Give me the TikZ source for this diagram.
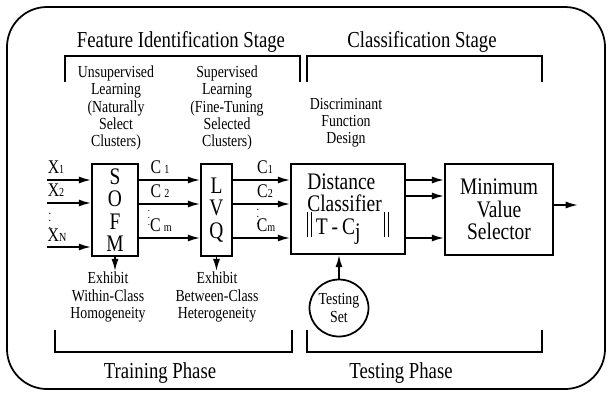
\documentclass[tikz,border=0pt]{standalone}
\usepackage{fontspec}
\setmainfont{Liberation Serif}[FakeStretch=0.82]
\usetikzlibrary{shapes.geometric, arrows.meta, positioning, calc}
\newcommand{\lowidx}[1]{{\fontsize{7}{7}\selectfont #1}}
\newcommand{\normbar}{\rule[-0.3ex]{0.6pt}{2.3ex}\hspace{1.4pt}\rule[-0.3ex]{0.6pt}{2.3ex}}

\begin{document}
\begin{tikzpicture}[x=0.02cm, y=-0.02cm, line width=1pt, >={Latex[length=7pt,width=4pt]},
  blockbox/.style={rectangle, draw, line width=1pt, inner sep=0pt},
  boxtext/.style={font=\fontsize{13.5}{12.8}\selectfont},
  smalltext/.style={font=\fontsize{9.6}{9.8}\selectfont, align=center, inner sep=0pt},
  headtext/.style={font=\fontsize{13}{15}\selectfont, inner sep=0pt},
  sigtext/.style={font=\fontsize{11}{12}\selectfont, inner sep=0pt}]
\useasboundingbox (0,0) rectangle (608,393);

% Outer frame
\draw[rounded corners=0.8cm] (7,7) rectangle (605,389);

% Stages
\node[headtext] (featstage) at (181,42) {Feature Identification Stage};
\node[headtext] (clsstage) at (422,42) {Classification Stage};
\draw (65,82) -- (65,56) -- (300,56) -- (300,82);
\draw (307,82) -- (307,56) -- (542,56) -- (542,82);

\node[smalltext] (unsup) at (116,108) {Unsupervised\\Learning\\(Naturally\\Select\\Clusters)};
\node[smalltext] (sup) at (227,108) {Supervised\\Learning\\(Fine-Tuning\\Selected\\Clusters)};
\node[smalltext] (discr) at (346,123) {Discriminant\\Function\\Design};

% Blocks
\node[blockbox, boxtext, align=center, minimum width=0.92cm, minimum height=1.84cm] (sofm) at (115,210) {S\\O\\F\\M};
\node[blockbox, boxtext, align=center, minimum width=0.62cm, minimum height=1.84cm] (lvq) at (216.5,210) {L\\V\\Q};
\node[blockbox, boxtext, align=left, minimum width=2.28cm, minimum height=1.8cm] (dist) at (348,209) {Distance\\Classifier\\\normbar\,T\,-\,C\raisebox{-0.5ex}{j}\quad\normbar};
\node[blockbox, boxtext, align=center, minimum width=2.16cm, minimum height=1.82cm] (minsel) at (499,209.5) {Minimum\\Value\\Selector};
\node[ellipse, draw, smalltext, minimum width=1.18cm, minimum height=1.14cm] (testset) at (339,308) {Testing\\Set};

% Rows
\coordinate (in1) at (47,180);
\coordinate (in2) at (47,203);
\coordinate (in3) at (47,247);
\coordinate (row1) at (0,180);
\coordinate (row2) at (0,204);
\coordinate (rowb) at (0,196);
\coordinate (rowm) at (0,238);
\coordinate (out) at (578,205);

% Inputs
\draw[->] (in1) -- (in1 -| sofm.west);
\draw[->] (in2) -- (in2 -| sofm.west);
\draw[->] (in3) -- (in3 -| sofm.west);
\node[sigtext] (x1lbl) at (56,167) {X\lowidx{1}};
\node[sigtext] (x2lbl) at (56,190) {X\lowidx{2}};
\node[font=\fontsize{7}{7}\selectfont, inner sep=0pt] (xdots) at (50,216) {$\vdots$};
\node[sigtext] (xnlbl) at (57,235) {X\lowidx{N}};

% SOFM to LVQ
\draw[->] (sofm.east |- row1) -- (lvq.west |- row1);
\draw[->] (sofm.east |- row2) -- (lvq.west |- row2);
\draw[->] (sofm.east |- rowm) -- (lvq.west |- rowm);
\node[sigtext] (c1a) at (160,167) {C\,\lowidx{1}};
\node[sigtext] (c2a) at (160,191) {C\,\lowidx{2}};
\node[font=\fontsize{6}{6}\selectfont, inner sep=0pt] (cdotsa) at (149,213) {$\vdots$};
\node[sigtext] (cma) at (161,225) {C\,\lowidx{m}};

% LVQ to classifier
\draw[->] (lvq.east |- row1) -- (dist.west |- row1);
\draw[->] (lvq.east |- row2) -- (dist.west |- row2);
\draw[->] (lvq.east |- rowm) -- (dist.west |- rowm);
\node[sigtext] (c1b) at (265,167) {C\lowidx{1}};
\node[sigtext] (c2b) at (265,191) {C\lowidx{2}};
\node[font=\fontsize{7}{7}\selectfont, inner sep=0pt] (cdotsb) at (258,212) {$\vdots$};
\node[sigtext] (cmb) at (266,225) {C\lowidx{m}};

% Classifier to selector
\draw[->] (dist.east |- row1) -- (minsel.west |- row1);
\draw[->] (dist.east |- rowb) -- (minsel.west |- rowb);
\draw[->] (dist.east |- rowm) -- (minsel.west |- rowm);
\draw[->] (minsel.east |- out) -- (out);
\draw[->] (testset.north) -- (testset.north |- dist.south);

% Properties
\node[smalltext] (within) at (108,297) {Exhibit\\Within-Class\\Homogeneity};
\node[smalltext] (between) at (217,297) {Exhibit\\Between-Class\\Heterogeneity};
\draw[->] (sofm.south) -- (sofm.south |- within.north);
\draw[->] (lvq.south) -- (lvq.south |- between.north);

% Phases
\draw (55,330) -- (55,352) -- (292,352) -- (292,330);
\draw (307,330) -- (307,352) -- (542,352) -- (542,330);
\node[headtext] (trainph) at (160,373) {Training Phase};
\node[headtext] (testph) at (401,373) {Testing Phase};
\end{tikzpicture}
\end{document}
